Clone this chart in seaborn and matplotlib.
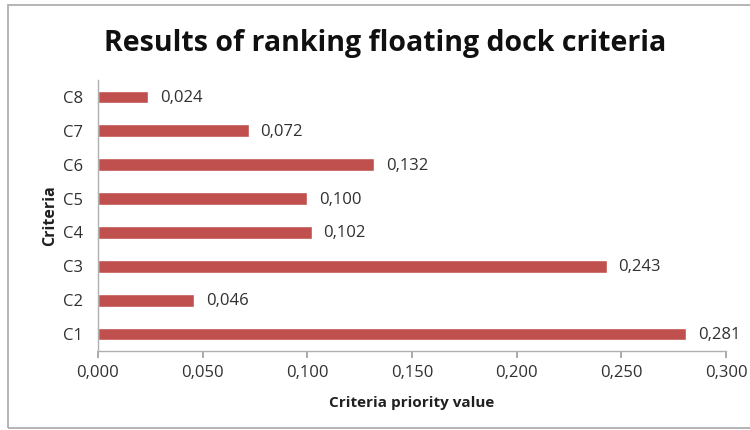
import matplotlib
matplotlib.use("Agg")
import matplotlib.pyplot as plt
import seaborn as sns
import pandas as pd
from matplotlib.ticker import FuncFormatter
from matplotlib.patches import Rectangle

categories = ["C8", "C7", "C6", "C5", "C4", "C3", "C2", "C1"]
values = [0.024, 0.072, 0.132, 0.100, 0.102, 0.243, 0.046, 0.281]
xticks = [0.0, 0.05, 0.10, 0.15, 0.20, 0.25, 0.30]

sns.set_theme(style="white")
plt.rcParams['font.family'] = ['Open Sans', 'DejaVu Sans']

df = pd.DataFrame({"Criteria": categories, "Value": values})

fig = plt.figure(figsize=(7.5, 4.3), dpi=100)
ax = fig.add_axes([98/750, 1 - 351/430, (726 - 98)/750, (351 - 80)/430])

sns.barplot(data=df, y="Criteria", x="Value", orient="h", color="#C0504D",
            saturation=1, width=0.38, ax=ax, order=categories)

ax.set_xlim(0, 0.30)
ax.set_xticks(xticks)
ax.xaxis.set_major_formatter(FuncFormatter(lambda v, p: f"{v:.3f}".replace(".", ",")))
ax.tick_params(axis="x", which="major", bottom=True, length=5, color="#A0A0A0",
               labelsize=12, labelcolor="#303030", pad=5)
ax.tick_params(axis="y", left=False, length=0, labelsize=12, labelcolor="#303030", pad=11)

for s in ["top", "right"]:
    ax.spines[s].set_visible(False)
for s in ["left", "bottom"]:
    ax.spines[s].set_color("#B0B0B0")
    ax.spines[s].set_linewidth(1)

for i, v in enumerate(values):
    ax.text(v + 0.0055, i + 0.03, f"{v:.3f}".replace(".", ","), va="center", ha="left",
            fontsize=12, color="#303030")

ax.set_xlabel("Criteria priority value", fontsize=11, fontweight="bold", labelpad=11, color="#202020")
ax.set_ylabel("Criteria", fontsize=11.5, fontweight="bold", labelpad=3, color="#202020")

fig.text(385/750, 1 - 43/430, "Results of ranking floating dock criteria", ha="center", va="center",
         fontsize=20.5, fontweight="bold", color="#101010")

fig.patches.append(Rectangle((8/750, 2/430), 760/750, 423/430, transform=fig.transFigure,
                             fill=False, edgecolor="#A8A8A8", linewidth=1.2))

fig.savefig("out.png", dpi=100)
